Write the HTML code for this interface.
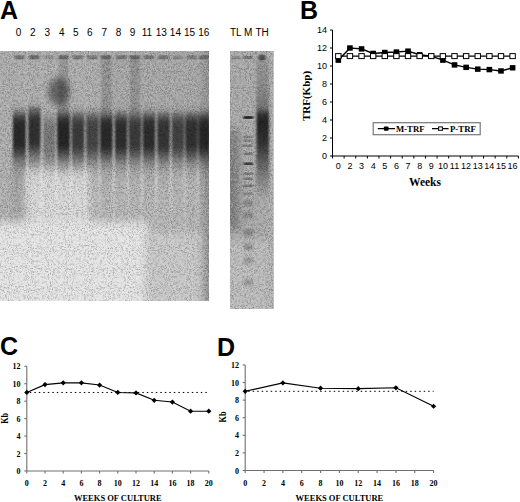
<!DOCTYPE html>
<html><head><meta charset="utf-8"><style>
html,body{margin:0;padding:0;background:#fff;}
body{width:520px;height:502px;overflow:hidden;}
svg{display:block;}
</style></head><body>
<svg width="520" height="502" viewBox="0 0 520 502">
<defs>
<filter id="lb" x="-20%" y="-20%" width="140%" height="140%"><feGaussianBlur stdDeviation="1.3 2.2"/></filter>
<filter id="bm" x="-30%" y="-30%" width="160%" height="160%"><feGaussianBlur stdDeviation="4"/></filter>
</defs>
<linearGradient id="lp" gradientUnits="userSpaceOnUse" x1="0" y1="100" x2="0" y2="200"><stop offset="0" stop-color="#000" stop-opacity="0"/><stop offset="0.06" stop-color="#000" stop-opacity="0.15"/><stop offset="0.11" stop-color="#000" stop-opacity="0.6"/><stop offset="0.16" stop-color="#000" stop-opacity="0.92"/><stop offset="0.22" stop-color="#000" stop-opacity="1"/><stop offset="0.42" stop-color="#000" stop-opacity="1"/><stop offset="0.5" stop-color="#000" stop-opacity="0.7"/><stop offset="0.58" stop-color="#000" stop-opacity="0.33"/><stop offset="0.68" stop-color="#000" stop-opacity="0.1"/><stop offset="0.8" stop-color="#000" stop-opacity="0.02"/><stop offset="1" stop-color="#000" stop-opacity="0"/></linearGradient>
<linearGradient id="tl" gradientUnits="userSpaceOnUse" x1="0" y1="60" x2="0" y2="260"><stop offset="0" stop-color="#fff" stop-opacity="0.05"/><stop offset="0.2" stop-color="#fff" stop-opacity="0.03"/><stop offset="0.3" stop-color="#fff" stop-opacity="0.04"/><stop offset="0.42" stop-color="#fff" stop-opacity="0.12"/><stop offset="0.52" stop-color="#fff" stop-opacity="0.3"/><stop offset="0.62" stop-color="#fff" stop-opacity="0.35"/><stop offset="0.75" stop-color="#fff" stop-opacity="0.15"/><stop offset="1" stop-color="#fff" stop-opacity="0"/></linearGradient>
<filter id="nd" x="0" y="0" width="100%" height="100%"><feTurbulence type="fractalNoise" baseFrequency="0.38" numOctaves="3" seed="5" result="a"/><feColorMatrix in="a" type="matrix" values="0 0 0 0 0  0 0 0 0 0  0 0 0 0 0  -1.6 0 0 0 0.8" result="a2"/><feTurbulence type="fractalNoise" baseFrequency="0.95" numOctaves="1" seed="8" result="b"/><feColorMatrix in="b" type="matrix" values="0 0 0 0 0  0 0 0 0 0  0 0 0 0 0  -3.5 0 0 0 1.6" result="b2"/><feGaussianBlur in="b2" stdDeviation="0.35" result="b3"/><feMerge><feMergeNode in="a2"/><feMergeNode in="b3"/></feMerge></filter>
<filter id="nl" x="0" y="0" width="100%" height="100%"><feTurbulence type="fractalNoise" baseFrequency="0.38" numOctaves="3" seed="5" result="a"/><feColorMatrix in="a" type="matrix" values="0 0 0 0 1  0 0 0 0 1  0 0 0 0 1  1.6 0 0 0 -0.8" result="a2"/><feTurbulence type="fractalNoise" baseFrequency="0.95" numOctaves="1" seed="8" result="b"/><feColorMatrix in="b" type="matrix" values="0 0 0 0 1  0 0 0 0 1  0 0 0 0 1  3.5 0 0 0 -1.9" result="b2"/><feGaussianBlur in="b2" stdDeviation="0.35" result="b3"/><feMerge><feMergeNode in="a2"/><feMergeNode in="b3"/></feMerge></filter>
<filter id="wb" x="-30%" y="-100%" width="160%" height="300%"><feGaussianBlur stdDeviation="0.9 0.7"/></filter>
<clipPath id="cg"><rect x="0" y="51" width="209" height="250"/></clipPath>
<g clip-path="url(#cg)">
<rect x="0" y="51" width="209" height="250" fill="#acacac"/>
<g filter="url(#bm)">
<rect x="100" y="55" width="110" height="55" fill="#a6a6a6"/>
<rect x="-10" y="160" width="34" height="62" fill="#b0b0b0"/>
<rect x="25" y="168" width="66" height="58" fill="#d8d8d8"/>
<rect x="90" y="165" width="130" height="68" fill="#b4b4b4"/>
<rect x="-10" y="222" width="157" height="90" fill="#e4e4e4"/>
<rect x="145" y="232" width="60" height="90" fill="#c8c8c8"/>
<rect x="203" y="40" width="20" height="280" fill="#8e8e8e"/>
</g>
<rect x="0" y="51" width="209" height="250" filter="url(#nl)" opacity="0.3"/>
<g filter="url(#lb)">
<rect x="12.9" y="100" width="13" height="100" fill="url(#lp)" opacity="0.76" transform="translate(0 3.5)"/>
<rect x="28.2" y="100" width="12.4" height="100" fill="url(#lp)" opacity="0.72" transform="translate(0 0.5)"/>
<rect x="43.1" y="100" width="12.4" height="100" fill="url(#lp)" opacity="0.3" transform="translate(0 7.5)"/>
<rect x="57" y="100" width="13" height="100" fill="url(#lp)" opacity="0.78" transform="translate(0 3.5)"/>
<rect x="71.6" y="100" width="12.8" height="100" fill="url(#lp)" opacity="0.66" transform="translate(0 4.5)"/>
<rect x="86.1" y="100" width="12.8" height="100" fill="url(#lp)" opacity="0.6" transform="translate(0 4.5)"/>
<rect x="99.9" y="100" width="12.8" height="100" fill="url(#lp)" opacity="0.76" transform="translate(0 4.5)"/>
<rect x="114.7" y="100" width="12.6" height="100" fill="url(#lp)" opacity="0.74" transform="translate(0 4.5)"/>
<rect x="128.6" y="100" width="12.8" height="100" fill="url(#lp)" opacity="0.66" transform="translate(0 4.5)"/>
<rect x="142.6" y="100" width="12.8" height="100" fill="url(#lp)" opacity="0.74" transform="translate(0 4.5)"/>
<rect x="157.1" y="100" width="12.8" height="100" fill="url(#lp)" opacity="0.7" transform="translate(0 4.5)"/>
<rect x="171.6" y="100" width="12.8" height="100" fill="url(#lp)" opacity="0.62" transform="translate(0 4.5)"/>
<rect x="185.1" y="100" width="12.8" height="100" fill="url(#lp)" opacity="0.72" transform="translate(0 4.5)"/>
<rect x="198.25" y="100" width="11.5" height="100" fill="url(#lp)" opacity="0.76" transform="translate(0 4.5)"/>
</g>
<g filter="url(#lb)">
<rect x="25.8" y="60" width="2.2" height="200" fill="url(#tl)"/>
<rect x="40.75" y="60" width="2.2" height="200" fill="url(#tl)"/>
<rect x="55.3" y="60" width="2.2" height="200" fill="url(#tl)"/>
<rect x="69.65" y="60" width="2.2" height="200" fill="url(#tl)"/>
<rect x="84.15" y="60" width="2.2" height="200" fill="url(#tl)"/>
<rect x="98.3" y="60" width="2.2" height="200" fill="url(#tl)"/>
<rect x="112.55" y="60" width="2.2" height="200" fill="url(#tl)"/>
<rect x="126.9" y="60" width="2.2" height="200" fill="url(#tl)"/>
<rect x="140.9" y="60" width="2.2" height="200" fill="url(#tl)"/>
<rect x="155.15" y="60" width="2.2" height="200" fill="url(#tl)"/>
<rect x="169.65" y="60" width="2.2" height="200" fill="url(#tl)"/>
<rect x="183.65" y="60" width="2.2" height="200" fill="url(#tl)"/>
<rect x="196.65" y="60" width="2.2" height="200" fill="url(#tl)"/>
</g>
<g filter="url(#wb)">
<rect x="14.4" y="55.3" width="10" height="4" fill="#000" opacity="0.32"/>
<rect x="29.4" y="55.3" width="10" height="4" fill="#000" opacity="0.38"/>
<rect x="44.3" y="55.3" width="10" height="4" fill="#000" opacity="0.14"/>
<rect x="58.5" y="55.3" width="10" height="4" fill="#000" opacity="0.36"/>
<rect x="73" y="55.3" width="10" height="4" fill="#000" opacity="0.3"/>
<rect x="87.5" y="55.3" width="10" height="4" fill="#000" opacity="0.28"/>
<rect x="101.3" y="55.3" width="10" height="4" fill="#000" opacity="0.36"/>
<rect x="116" y="55.3" width="10" height="4" fill="#000" opacity="0.32"/>
<rect x="130" y="55.3" width="10" height="4" fill="#000" opacity="0.36"/>
<rect x="144" y="55.3" width="10" height="4" fill="#000" opacity="0.3"/>
<rect x="158.5" y="55.3" width="10" height="4" fill="#000" opacity="0.32"/>
<rect x="173" y="55.3" width="10" height="4" fill="#000" opacity="0.2"/>
<rect x="186.5" y="55.3" width="10" height="4" fill="#000" opacity="0.26"/>
<rect x="199" y="55.3" width="10" height="4" fill="#000" opacity="0.28"/>
</g>
<g filter="url(#lb)" opacity="0.12">
<rect x="101.3" y="58" width="10" height="55" fill="#000"/>
<rect x="130" y="58" width="10" height="55" fill="#000"/>
<rect x="58.5" y="58" width="10" height="55" fill="#000"/>
</g>
<rect x="13" y="150" width="12" height="70" fill="#000" opacity="0.07" filter="url(#bm)"/>
<rect x="29" y="107.5" width="11" height="2.5" fill="#000" opacity="0.3" filter="url(#lb)"/>
<filter id="b3" x="-50%" y="-50%" width="200%" height="200%"><feGaussianBlur stdDeviation="3.2"/></filter>
<ellipse cx="59" cy="91.5" rx="10.5" ry="14" fill="#000" opacity="0.42" filter="url(#b3)"/>
<rect x="0" y="51" width="209" height="250" filter="url(#nd)" opacity="0.3"/>
</g>
<clipPath id="cs"><rect x="230" y="51" width="43.5" height="258"/></clipPath>
<g clip-path="url(#cs)">
<rect x="230" y="51" width="44" height="258" fill="#a9a9a9"/>
<g filter="url(#bm)"><rect x="225" y="240" width="55" height="80" fill="#bcbcbc"/><rect x="226" y="130" width="13" height="100" fill="#7c7c7c"/><rect x="269" y="40" width="10" height="280" fill="#b0b0b0"/></g>
<rect x="230" y="51" width="44" height="258" filter="url(#nl)" opacity="0.3"/>
<linearGradient id="thg" gradientUnits="userSpaceOnUse" x1="0" y1="58" x2="0" y2="200"><stop offset="0" stop-color="#000" stop-opacity="0.12"/><stop offset="0.2" stop-color="#000" stop-opacity="0.18"/><stop offset="0.36" stop-color="#000" stop-opacity="0.32"/><stop offset="0.39" stop-color="#000" stop-opacity="0.7"/><stop offset="0.45" stop-color="#000" stop-opacity="0.8"/><stop offset="0.6" stop-color="#000" stop-opacity="0.7"/><stop offset="0.78" stop-color="#000" stop-opacity="0.35"/><stop offset="1" stop-color="#000" stop-opacity="0"/></linearGradient>
<g filter="url(#lb)">
<rect x="256.5" y="58" width="12.5" height="142" fill="url(#thg)"/>
</g>
<g filter="url(#wb)">
<rect x="243.5" y="116.2" width="9.5" height="2.6" fill="#000" opacity="0.8"/>
<rect x="243.5" y="135.6" width="9.5" height="2.6" fill="#000" opacity="0.22"/>
<rect x="243.5" y="139.5" width="9.5" height="2.6" fill="#000" opacity="0.22"/>
<rect x="243.5" y="144.5" width="9.5" height="2.6" fill="#000" opacity="0.25"/>
<rect x="243.5" y="152.5" width="9.5" height="2.6" fill="#000" opacity="0.27"/>
<rect x="243.5" y="162.4" width="9.5" height="2.6" fill="#000" opacity="0.62"/>
<rect x="243.5" y="172.4" width="9.5" height="2.6" fill="#000" opacity="0.26"/>
<rect x="243.5" y="177.4" width="9.5" height="2.6" fill="#000" opacity="0.26"/>
<rect x="243.5" y="184.4" width="9.5" height="2.6" fill="#000" opacity="0.32"/>
<rect x="243.5" y="192.3" width="9.5" height="2.6" fill="#000" opacity="0.22"/>
</g>
<g filter="url(#lb)">
<rect x="243.5" y="201" width="9.5" height="4" fill="#000" opacity="0.3"/>
<rect x="243.5" y="213" width="9.5" height="4" fill="#000" opacity="0.3"/>
<rect x="243.5" y="230.6" width="9.5" height="4" fill="#000" opacity="0.35"/>
<rect x="243.5" y="245" width="9.5" height="4" fill="#000" opacity="0.35"/>
<rect x="243.5" y="258.6" width="9.5" height="4" fill="#000" opacity="0.3"/>
<rect x="243.5" y="280.5" width="9.5" height="4" fill="#000" opacity="0.3"/>
</g>
<g filter="url(#wb)"><rect x="233" y="56" width="7" height="3" opacity="0.2"/><rect x="243.5" y="56" width="9" height="3" opacity="0.3"/><ellipse cx="262" cy="57.5" rx="3.6" ry="3" opacity="0.5"/></g>
<rect x="230" y="51" width="44" height="258" filter="url(#nd)" opacity="0.3"/>
</g>
<text x="0" y="19" font-family="Liberation Sans" font-weight="bold" font-size="25">A</text>
<text x="300" y="19" font-family="Liberation Sans" font-weight="bold" font-size="25">B</text>
<text x="0" y="355" font-family="Liberation Sans" font-weight="bold" font-size="25">C</text>
<text x="217" y="356" font-family="Liberation Sans" font-weight="bold" font-size="25">D</text>
<text x="18.6" y="35.5" font-family="Liberation Sans" font-size="10" text-anchor="middle">0</text>
<text x="32.8" y="35.5" font-family="Liberation Sans" font-size="10" text-anchor="middle">2</text>
<text x="47.4" y="35.5" font-family="Liberation Sans" font-size="10" text-anchor="middle">3</text>
<text x="61.7" y="35.5" font-family="Liberation Sans" font-size="10" text-anchor="middle">4</text>
<text x="75.9" y="35.5" font-family="Liberation Sans" font-size="10" text-anchor="middle">5</text>
<text x="89.9" y="35.5" font-family="Liberation Sans" font-size="10" text-anchor="middle">6</text>
<text x="104.2" y="35.5" font-family="Liberation Sans" font-size="10" text-anchor="middle">7</text>
<text x="118.5" y="35.5" font-family="Liberation Sans" font-size="10" text-anchor="middle">8</text>
<text x="132.5" y="35.5" font-family="Liberation Sans" font-size="10" text-anchor="middle">9</text>
<text x="147" y="35.5" font-family="Liberation Sans" font-size="10" text-anchor="middle">11</text>
<text x="161.2" y="35.5" font-family="Liberation Sans" font-size="10" text-anchor="middle">13</text>
<text x="175.4" y="35.5" font-family="Liberation Sans" font-size="10" text-anchor="middle">14</text>
<text x="189.5" y="35.5" font-family="Liberation Sans" font-size="10" text-anchor="middle">15</text>
<text x="203.7" y="35.5" font-family="Liberation Sans" font-size="10" text-anchor="middle">16</text>
<text x="230" y="35.5" font-family="Liberation Sans" font-size="10">TL</text>
<text x="244" y="35.5" font-family="Liberation Sans" font-size="10">M</text>
<text x="255.4" y="35.5" font-family="Liberation Sans" font-size="10">TH</text>
<g stroke="#000" stroke-width="1" fill="none">
<path d="M332.5 30V156H518.42"/>
<path d="M330 156H332.5"/>
<path d="M330 138H332.5"/>
<path d="M330 120H332.5"/>
<path d="M330 102H332.5"/>
<path d="M330 84H332.5"/>
<path d="M330 66H332.5"/>
<path d="M330 48H332.5"/>
<path d="M330 30H332.5"/>
<path d="M332.5 156V158.5"/>
<path d="M344.12 156V158.5"/>
<path d="M355.74 156V158.5"/>
<path d="M367.36 156V158.5"/>
<path d="M378.98 156V158.5"/>
<path d="M390.6 156V158.5"/>
<path d="M402.22 156V158.5"/>
<path d="M413.84 156V158.5"/>
<path d="M425.46 156V158.5"/>
<path d="M437.08 156V158.5"/>
<path d="M448.7 156V158.5"/>
<path d="M460.32 156V158.5"/>
<path d="M471.94 156V158.5"/>
<path d="M483.56 156V158.5"/>
<path d="M495.18 156V158.5"/>
<path d="M506.8 156V158.5"/>
<path d="M518.42 156V158.5"/>
</g>
<text x="327" y="159.3" font-family="Liberation Sans" font-size="9" text-anchor="end">0</text>
<text x="327" y="141.3" font-family="Liberation Sans" font-size="9" text-anchor="end">2</text>
<text x="327" y="123.3" font-family="Liberation Sans" font-size="9" text-anchor="end">4</text>
<text x="327" y="105.3" font-family="Liberation Sans" font-size="9" text-anchor="end">6</text>
<text x="327" y="87.3" font-family="Liberation Sans" font-size="9" text-anchor="end">8</text>
<text x="327" y="69.3" font-family="Liberation Sans" font-size="9" text-anchor="end">10</text>
<text x="327" y="51.3" font-family="Liberation Sans" font-size="9" text-anchor="end">12</text>
<text x="327" y="33.3" font-family="Liberation Sans" font-size="9" text-anchor="end">14</text>
<text x="338.31" y="169.3" font-family="Liberation Sans" font-size="9" text-anchor="middle">0</text>
<text x="349.93" y="169.3" font-family="Liberation Sans" font-size="9" text-anchor="middle">2</text>
<text x="361.55" y="169.3" font-family="Liberation Sans" font-size="9" text-anchor="middle">3</text>
<text x="373.17" y="169.3" font-family="Liberation Sans" font-size="9" text-anchor="middle">4</text>
<text x="384.79" y="169.3" font-family="Liberation Sans" font-size="9" text-anchor="middle">5</text>
<text x="396.41" y="169.3" font-family="Liberation Sans" font-size="9" text-anchor="middle">6</text>
<text x="408.03" y="169.3" font-family="Liberation Sans" font-size="9" text-anchor="middle">7</text>
<text x="419.65" y="169.3" font-family="Liberation Sans" font-size="9" text-anchor="middle">8</text>
<text x="431.27" y="169.3" font-family="Liberation Sans" font-size="9" text-anchor="middle">9</text>
<text x="442.89" y="169.3" font-family="Liberation Sans" font-size="9" text-anchor="middle">10</text>
<text x="454.51" y="169.3" font-family="Liberation Sans" font-size="9" text-anchor="middle">11</text>
<text x="466.13" y="169.3" font-family="Liberation Sans" font-size="9" text-anchor="middle">12</text>
<text x="477.75" y="169.3" font-family="Liberation Sans" font-size="9" text-anchor="middle">13</text>
<text x="489.37" y="169.3" font-family="Liberation Sans" font-size="9" text-anchor="middle">14</text>
<text x="500.99" y="169.3" font-family="Liberation Sans" font-size="9" text-anchor="middle">15</text>
<text x="512.61" y="169.3" font-family="Liberation Sans" font-size="9" text-anchor="middle">16</text>
<text x="425" y="185.5" font-family="Liberation Serif" font-weight="bold" font-size="11.5" text-anchor="middle">Weeks</text>
<text transform="translate(309.7,96) rotate(-90)" font-family="Liberation Serif" font-weight="bold" font-size="11" text-anchor="middle">TRF(Kbp)</text>
<polyline fill="none" stroke="#000" stroke-width="1.45" points="338.31,60.15 349.93,48 361.55,48.9 373.17,53.4 384.79,52.5 396.41,52.05 408.03,51.15 419.65,54.75 431.27,56.1 442.89,60.15 454.51,64.92 466.13,67.35 477.75,69.15 489.37,69.6 500.99,70.95 512.61,67.8"/>
<rect x="335.51" y="57.45" width="5.6" height="5.4" fill="#000"/>
<rect x="347.13" y="45.3" width="5.6" height="5.4" fill="#000"/>
<rect x="358.75" y="46.2" width="5.6" height="5.4" fill="#000"/>
<rect x="370.37" y="50.7" width="5.6" height="5.4" fill="#000"/>
<rect x="381.99" y="49.8" width="5.6" height="5.4" fill="#000"/>
<rect x="393.61" y="49.35" width="5.6" height="5.4" fill="#000"/>
<rect x="405.23" y="48.45" width="5.6" height="5.4" fill="#000"/>
<rect x="416.85" y="52.05" width="5.6" height="5.4" fill="#000"/>
<rect x="428.47" y="53.4" width="5.6" height="5.4" fill="#000"/>
<rect x="440.09" y="57.45" width="5.6" height="5.4" fill="#000"/>
<rect x="451.71" y="62.22" width="5.6" height="5.4" fill="#000"/>
<rect x="463.33" y="64.65" width="5.6" height="5.4" fill="#000"/>
<rect x="474.95" y="66.45" width="5.6" height="5.4" fill="#000"/>
<rect x="486.57" y="66.9" width="5.6" height="5.4" fill="#000"/>
<rect x="498.19" y="68.25" width="5.6" height="5.4" fill="#000"/>
<rect x="509.81" y="65.1" width="5.6" height="5.4" fill="#000"/>
<polyline fill="none" stroke="#000" stroke-width="1.45" points="338.31,56.1 349.93,56.1 361.55,56.1 373.17,56.1 384.79,56.1 396.41,56.1 408.03,56.1 419.65,56.1 431.27,56.1 442.89,56.1 454.51,56.1 466.13,56.1 477.75,56.1 489.37,56.1 500.99,56.1 512.61,56.1"/>
<rect x="335.61" y="53.6" width="5.4" height="5" fill="#fff" stroke="#000" stroke-width="1"/>
<rect x="347.23" y="53.6" width="5.4" height="5" fill="#fff" stroke="#000" stroke-width="1"/>
<rect x="358.85" y="53.6" width="5.4" height="5" fill="#fff" stroke="#000" stroke-width="1"/>
<rect x="370.47" y="53.6" width="5.4" height="5" fill="#fff" stroke="#000" stroke-width="1"/>
<rect x="382.09" y="53.6" width="5.4" height="5" fill="#fff" stroke="#000" stroke-width="1"/>
<rect x="393.71" y="53.6" width="5.4" height="5" fill="#fff" stroke="#000" stroke-width="1"/>
<rect x="405.33" y="53.6" width="5.4" height="5" fill="#fff" stroke="#000" stroke-width="1"/>
<rect x="416.95" y="53.6" width="5.4" height="5" fill="#fff" stroke="#000" stroke-width="1"/>
<rect x="428.57" y="53.6" width="5.4" height="5" fill="#fff" stroke="#000" stroke-width="1"/>
<rect x="440.19" y="53.6" width="5.4" height="5" fill="#fff" stroke="#000" stroke-width="1"/>
<rect x="451.81" y="53.6" width="5.4" height="5" fill="#fff" stroke="#000" stroke-width="1"/>
<rect x="463.43" y="53.6" width="5.4" height="5" fill="#fff" stroke="#000" stroke-width="1"/>
<rect x="475.05" y="53.6" width="5.4" height="5" fill="#fff" stroke="#000" stroke-width="1"/>
<rect x="486.67" y="53.6" width="5.4" height="5" fill="#fff" stroke="#000" stroke-width="1"/>
<rect x="498.29" y="53.6" width="5.4" height="5" fill="#fff" stroke="#000" stroke-width="1"/>
<rect x="509.91" y="53.6" width="5.4" height="5" fill="#fff" stroke="#000" stroke-width="1"/>
<rect x="373.2" y="122.7" width="107" height="12" fill="#fff" stroke="#777" stroke-width="1.2"/>
<path d="M377.8 128.6H395M432 128.6H448.6" stroke="#000" stroke-width="1.4"/>
<rect x="383.9" y="126.4" width="4.6" height="4.4" rx="0.8" fill="#000"/>
<rect x="438.6" y="126.9" width="3.8" height="3.4" fill="#fff" stroke="#000"/>
<text x="396" y="132" font-family="Liberation Serif" font-weight="bold" font-size="8.7">M-TRF</text>
<text x="450" y="132" font-family="Liberation Serif" font-weight="bold" font-size="8.8">P-TRF</text>
<g stroke="#707070" stroke-width="1.1" fill="none">
<path d="M26.8 366.3V470.94H208.8"/>
<path d="M24.3 470.94H26.8"/>
<path d="M24.3 453.5H26.8"/>
<path d="M24.3 436.06H26.8"/>
<path d="M24.3 418.62H26.8"/>
<path d="M24.3 401.18H26.8"/>
<path d="M24.3 383.74H26.8"/>
<path d="M24.3 366.3H26.8"/>
<path d="M26.8 470.94V473.44"/>
<path d="M45 470.94V473.44"/>
<path d="M63.2 470.94V473.44"/>
<path d="M81.4 470.94V473.44"/>
<path d="M99.6 470.94V473.44"/>
<path d="M117.8 470.94V473.44"/>
<path d="M136 470.94V473.44"/>
<path d="M154.2 470.94V473.44"/>
<path d="M172.4 470.94V473.44"/>
<path d="M190.6 470.94V473.44"/>
<path d="M208.8 470.94V473.44"/>
</g>
<text x="20.5" y="474.04" font-family="Liberation Serif" font-weight="bold" font-size="8" text-anchor="end">0</text>
<text x="20.5" y="456.6" font-family="Liberation Serif" font-weight="bold" font-size="8" text-anchor="end">2</text>
<text x="20.5" y="439.16" font-family="Liberation Serif" font-weight="bold" font-size="8" text-anchor="end">4</text>
<text x="20.5" y="421.72" font-family="Liberation Serif" font-weight="bold" font-size="8" text-anchor="end">6</text>
<text x="20.5" y="404.28" font-family="Liberation Serif" font-weight="bold" font-size="8" text-anchor="end">8</text>
<text x="20.5" y="386.84" font-family="Liberation Serif" font-weight="bold" font-size="8" text-anchor="end">10</text>
<text x="20.5" y="369.4" font-family="Liberation Serif" font-weight="bold" font-size="8" text-anchor="end">12</text>
<text x="26.8" y="486" font-family="Liberation Serif" font-weight="bold" font-size="8" text-anchor="middle">0</text>
<text x="45" y="486" font-family="Liberation Serif" font-weight="bold" font-size="8" text-anchor="middle">2</text>
<text x="63.2" y="486" font-family="Liberation Serif" font-weight="bold" font-size="8" text-anchor="middle">4</text>
<text x="81.4" y="486" font-family="Liberation Serif" font-weight="bold" font-size="8" text-anchor="middle">6</text>
<text x="99.6" y="486" font-family="Liberation Serif" font-weight="bold" font-size="8" text-anchor="middle">8</text>
<text x="117.8" y="486" font-family="Liberation Serif" font-weight="bold" font-size="8" text-anchor="middle">10</text>
<text x="136" y="486" font-family="Liberation Serif" font-weight="bold" font-size="8" text-anchor="middle">12</text>
<text x="154.2" y="486" font-family="Liberation Serif" font-weight="bold" font-size="8" text-anchor="middle">14</text>
<text x="172.4" y="486" font-family="Liberation Serif" font-weight="bold" font-size="8" text-anchor="middle">16</text>
<text x="190.6" y="486" font-family="Liberation Serif" font-weight="bold" font-size="8" text-anchor="middle">18</text>
<text x="208.8" y="486" font-family="Liberation Serif" font-weight="bold" font-size="8" text-anchor="middle">20</text>
<text x="117.8" y="501" font-family="Liberation Serif" font-weight="bold" font-size="8.5" text-anchor="middle">WEEKS OF CULTURE</text>
<text transform="translate(8.2,418.3) rotate(-90) scale(0.86,1)" font-family="Liberation Serif" font-weight="bold" font-size="9.6" text-anchor="middle">Kb</text>
<path d="M29.8 392.46H208.8" stroke="#000" stroke-width="1" stroke-dasharray="1.5 3"/>
<polyline fill="none" stroke="#000" stroke-width="1.15" points="26.8,392.46 45,384.61 63.2,382.87 81.4,382.87 99.6,385.05 117.8,392.46 136,392.9 154.2,400.31 172.4,402.05 190.6,411.21 208.8,411.21"/>
<path d="M26.8 389.86l2.6 2.6l-2.6 2.6l-2.6 -2.6z" fill="#000"/>
<path d="M45 382.01l2.6 2.6l-2.6 2.6l-2.6 -2.6z" fill="#000"/>
<path d="M63.2 380.27l2.6 2.6l-2.6 2.6l-2.6 -2.6z" fill="#000"/>
<path d="M81.4 380.27l2.6 2.6l-2.6 2.6l-2.6 -2.6z" fill="#000"/>
<path d="M99.6 382.45l2.6 2.6l-2.6 2.6l-2.6 -2.6z" fill="#000"/>
<path d="M117.8 389.86l2.6 2.6l-2.6 2.6l-2.6 -2.6z" fill="#000"/>
<path d="M136 390.3l2.6 2.6l-2.6 2.6l-2.6 -2.6z" fill="#000"/>
<path d="M154.2 397.71l2.6 2.6l-2.6 2.6l-2.6 -2.6z" fill="#000"/>
<path d="M172.4 399.45l2.6 2.6l-2.6 2.6l-2.6 -2.6z" fill="#000"/>
<path d="M190.6 408.61l2.6 2.6l-2.6 2.6l-2.6 -2.6z" fill="#000"/>
<path d="M208.8 408.61l2.6 2.6l-2.6 2.6l-2.6 -2.6z" fill="#000"/>
<g stroke="#707070" stroke-width="1.1" fill="none">
<path d="M245.2 364.9V470.5H433.6"/>
<path d="M242.7 470.5H245.2"/>
<path d="M242.7 452.9H245.2"/>
<path d="M242.7 435.3H245.2"/>
<path d="M242.7 417.7H245.2"/>
<path d="M242.7 400.1H245.2"/>
<path d="M242.7 382.5H245.2"/>
<path d="M242.7 364.9H245.2"/>
<path d="M245.2 470.5V473"/>
<path d="M264.04 470.5V473"/>
<path d="M282.88 470.5V473"/>
<path d="M301.72 470.5V473"/>
<path d="M320.56 470.5V473"/>
<path d="M339.4 470.5V473"/>
<path d="M358.24 470.5V473"/>
<path d="M377.08 470.5V473"/>
<path d="M395.92 470.5V473"/>
<path d="M414.76 470.5V473"/>
<path d="M433.6 470.5V473"/>
</g>
<text x="238.9" y="473.6" font-family="Liberation Serif" font-weight="bold" font-size="8" text-anchor="end">0</text>
<text x="238.9" y="456" font-family="Liberation Serif" font-weight="bold" font-size="8" text-anchor="end">2</text>
<text x="238.9" y="438.4" font-family="Liberation Serif" font-weight="bold" font-size="8" text-anchor="end">4</text>
<text x="238.9" y="420.8" font-family="Liberation Serif" font-weight="bold" font-size="8" text-anchor="end">6</text>
<text x="238.9" y="403.2" font-family="Liberation Serif" font-weight="bold" font-size="8" text-anchor="end">8</text>
<text x="238.9" y="385.6" font-family="Liberation Serif" font-weight="bold" font-size="8" text-anchor="end">10</text>
<text x="238.9" y="368" font-family="Liberation Serif" font-weight="bold" font-size="8" text-anchor="end">12</text>
<text x="245.2" y="486" font-family="Liberation Serif" font-weight="bold" font-size="8" text-anchor="middle">0</text>
<text x="264.04" y="486" font-family="Liberation Serif" font-weight="bold" font-size="8" text-anchor="middle">2</text>
<text x="282.88" y="486" font-family="Liberation Serif" font-weight="bold" font-size="8" text-anchor="middle">4</text>
<text x="301.72" y="486" font-family="Liberation Serif" font-weight="bold" font-size="8" text-anchor="middle">6</text>
<text x="320.56" y="486" font-family="Liberation Serif" font-weight="bold" font-size="8" text-anchor="middle">8</text>
<text x="339.4" y="486" font-family="Liberation Serif" font-weight="bold" font-size="8" text-anchor="middle">10</text>
<text x="358.24" y="486" font-family="Liberation Serif" font-weight="bold" font-size="8" text-anchor="middle">12</text>
<text x="377.08" y="486" font-family="Liberation Serif" font-weight="bold" font-size="8" text-anchor="middle">14</text>
<text x="395.92" y="486" font-family="Liberation Serif" font-weight="bold" font-size="8" text-anchor="middle">16</text>
<text x="414.76" y="486" font-family="Liberation Serif" font-weight="bold" font-size="8" text-anchor="middle">18</text>
<text x="433.6" y="486" font-family="Liberation Serif" font-weight="bold" font-size="8" text-anchor="middle">20</text>
<text x="339.4" y="501" font-family="Liberation Serif" font-weight="bold" font-size="8.5" text-anchor="middle">WEEKS OF CULTURE</text>
<text transform="translate(225.8,416.9) rotate(-90) scale(0.86,1)" font-family="Liberation Serif" font-weight="bold" font-size="9.6" text-anchor="middle">Kb</text>
<path d="M248.2 391.3H433.6" stroke="#000" stroke-width="1" stroke-dasharray="1.5 3"/>
<polyline fill="none" stroke="#000" stroke-width="1.15" points="245.2,391.3 282.88,382.94 320.56,388.22 358.24,388.66 395.92,387.78 433.6,406.26"/>
<path d="M245.2 388.7l2.6 2.6l-2.6 2.6l-2.6 -2.6z" fill="#000"/>
<path d="M282.88 380.34l2.6 2.6l-2.6 2.6l-2.6 -2.6z" fill="#000"/>
<path d="M320.56 385.62l2.6 2.6l-2.6 2.6l-2.6 -2.6z" fill="#000"/>
<path d="M358.24 386.06l2.6 2.6l-2.6 2.6l-2.6 -2.6z" fill="#000"/>
<path d="M395.92 385.18l2.6 2.6l-2.6 2.6l-2.6 -2.6z" fill="#000"/>
<path d="M433.6 403.66l2.6 2.6l-2.6 2.6l-2.6 -2.6z" fill="#000"/>
</svg>
</body></html>
